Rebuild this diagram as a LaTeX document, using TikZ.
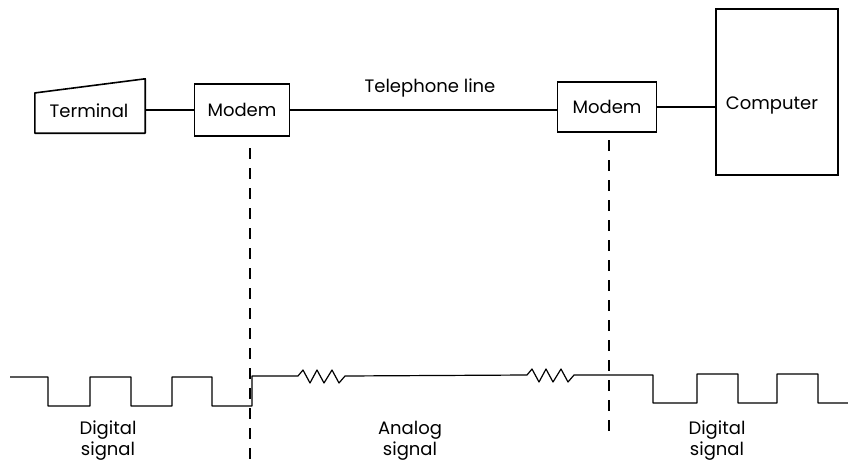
\documentclass[tikz,border=0pt]{standalone}
\usepackage{fontspec}
\setmainfont{Poppins}
\usetikzlibrary{calc}
\begin{document}
\begin{tikzpicture}[x=1pt,y=-1pt,
  txt/.style={font=\fontsize{18}{21}\selectfont, inner sep=0pt, align=center},
  boxshape/.style={draw, line width=1.6pt, rectangle, inner sep=0pt},
  wire/.style={line width=1.2pt},
  divider/.style={line width=1.3pt, dash pattern=on 11pt off 9pt}]
\useasboundingbox (0,0) rectangle (848,466);
% Terminal (trapezoid)
\node[rectangle, minimum width=110pt, minimum height=54pt, inner sep=0pt] (term) at (90,106) {};
\draw[line width=1.6pt, line join=round] (term.south west) -- (term.south east) -- (term.north east)
  -- ($(term.north west)!0.26!(term.south west)$) -- cycle;
\node[txt] (termtext) at (89,111) {Terminal};
% Modems
\node[boxshape, minimum width=95pt, minimum height=52pt, txt] (m1) at (242,110) {Modem};
\node[boxshape, minimum width=99pt, minimum height=50pt, txt] (m2) at (607,107) {Modem};
% Computer
\node[boxshape, minimum width=122pt, minimum height=166pt] (comp) at (777,92) {};
\node[txt] (comptext) at (772,105) {Computer};
% Connectors
\draw[wire] (term.east |- m1.west) -- (m1.west);
\draw[wire] (m1.east) -- (m1.east -| m2.west);
\draw[wire] (m2.east) -- (m2.east -| comp.west);
\node[txt] (tel) at (430,88) {Telephone line};
% Dashed dividers
\coordinate (d1top) at (250,148);
\coordinate (d1bot) at (250,463);
\coordinate (d2top) at (609,140);
\coordinate (d2bot) at (609,432);
\draw[divider] (d1top) -- (d1bot);
\draw[divider] (d2top) -- (d2bot);
% Signal
\draw[wire, line join=round]
  (10,377) -- (48,377) -- (48,406) -- (90,406) -- (90,377) -- (131,377) -- (131,406)
  -- (172,406) -- (172,377) -- (212,377) -- (212,406) -- (252,406) -- (252,376)
  -- (298,376) -- ++(5,-6) -- ++(7,13) -- ++(7,-13) -- ++(7,13) -- ++(8,-13) -- ++(7,13) -- ++(6,-7)
  -- (527,375) -- ++(5,-6) -- ++(7,13) -- ++(7,-13) -- ++(7,13) -- ++(8,-13) -- ++(7,13) -- ++(6,-7)
  -- (653,375) -- (653,403) -- (697,403) -- (697,374) -- (738,374) -- (738,403)
  -- (777,403) -- (777,374) -- (818,374) -- (818,403) -- (848,403);
% Signal labels
\node[txt] (lab1) at (108,441) {Digital\\signal};
\node[txt] (lab2) at (410,441) {Analog\\signal};
\node[txt] (lab3) at (717,441) {Digital\\signal};
\end{tikzpicture}
\end{document}
